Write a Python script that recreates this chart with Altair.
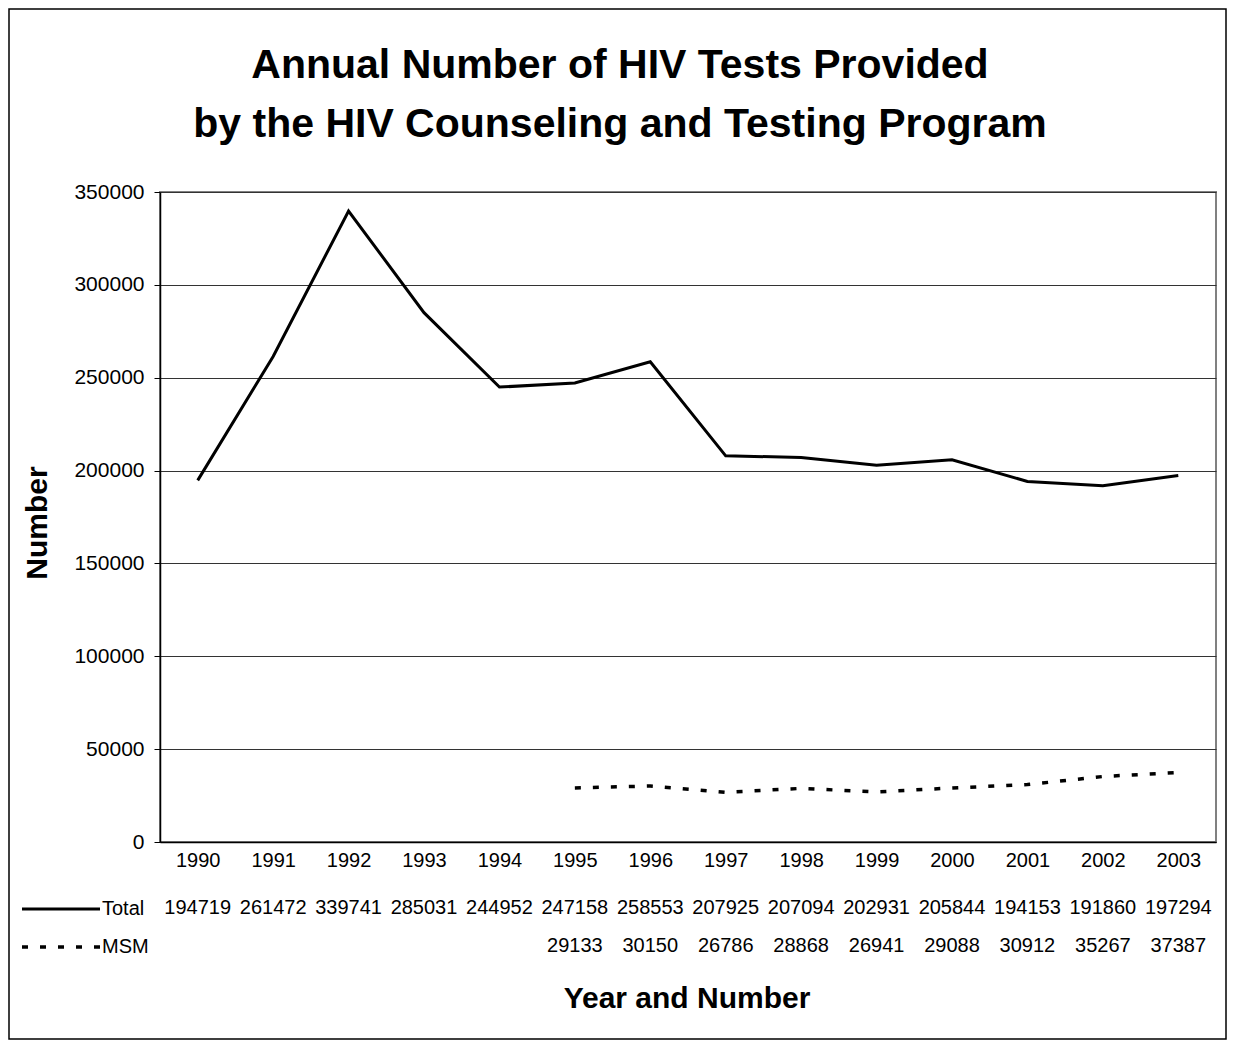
import altair as alt
import pandas as pd

years = ["1990", "1991", "1992", "1993", "1994", "1995", "1996", "1997",
         "1998", "1999", "2000", "2001", "2002", "2003"]
total = [194719, 261472, 339741, 285031, 244952, 247158, 258553, 207925,
         207094, 202931, 205844, 194153, 191860, 197294]
msm = [None, None, None, None, None, 29133, 30150, 26786, 28868, 26941,
       29088, 30912, 35267, 37387]
title_lines = ["Annual Number of HIV Tests Provided",
               "by the HIV Counseling and Testing Program"]

FONT = "Liberation Sans"

df_total = pd.DataFrame({"year": years, "value": total, "series": "Total"})
df_msm = pd.DataFrame({"year": years, "value": msm, "series": "MSM"}).dropna()
df_msm["value"] = df_msm["value"].astype(int)

W, H = 1056, 650

xscale = alt.Scale(domain=years, padding=0.5)
x_enc = alt.X("year:O", scale=xscale,
              axis=alt.Axis(title=None, labelAngle=0, ticks=False,
                            labelFontSize=20, labelPadding=8, labelColor="black",
                            domainColor="black", domainWidth=1.5))
y_enc = alt.Y("value:Q", scale=alt.Scale(domain=[0, 350000], nice=False),
              axis=alt.Axis(title=None, values=list(range(0, 350001, 50000)),
                            format="d", labelFontSize=21, labelColor="black",
                            labelPadding=10, tickSize=6, tickColor="black",
                            domainColor="black", domainWidth=1.5,
                            gridColor="#333333", gridWidth=1))

line_total = alt.Chart(df_total).mark_line(color="black", strokeWidth=3).encode(
    x=x_enc, y=y_enc)
line_msm = alt.Chart(df_msm).mark_line(color="black", strokeWidth=3.5,
                                       strokeDash=[6, 12]).encode(x=x_enc, y=y_enc)

txt_total = alt.Chart(df_total).mark_text(fontSize=20, font=FONT, baseline="middle",
                                          color="black").encode(
    x=alt.X("year:O", scale=xscale), y=alt.value(716), text=alt.Text("value:Q", format="d"))
txt_msm = alt.Chart(df_msm).mark_text(fontSize=20, font=FONT, baseline="middle",
                                      color="black").encode(
    x=alt.X("year:O", scale=xscale), y=alt.value(754), text=alt.Text("value:Q", format="d"))

one = pd.DataFrame({"a": [0]})
key_total = alt.Chart(one).mark_rule(color="black", strokeWidth=3).encode(
    x=alt.value(-138), x2=alt.value(-60), y=alt.value(717))
key_msm = alt.Chart(one).mark_rule(color="black", strokeWidth=3.5, strokeDash=[6, 12]).encode(
    x=alt.value(-138), x2=alt.value(-60), y=alt.value(755))
lab_total = alt.Chart(one).mark_text(text="Total", fontSize=20, font=FONT, align="left",
                                     baseline="middle", color="black").encode(
    x=alt.value(-58), y=alt.value(717))
lab_msm = alt.Chart(one).mark_text(text="MSM", fontSize=20, font=FONT, align="left",
                                   baseline="middle", color="black").encode(
    x=alt.value(-58), y=alt.value(755))

title1 = alt.Chart(one).mark_text(text=title_lines[0], fontSize=41, fontWeight="bold",
                                  font=FONT, align="center", baseline="alphabetic",
                                  color="black").encode(x=alt.value(460), y=alt.value(-114))
title2 = alt.Chart(one).mark_text(text=title_lines[1], fontSize=41, fontWeight="bold",
                                  font=FONT, align="center", baseline="alphabetic",
                                  color="black").encode(x=alt.value(460), y=alt.value(-55))
xtitle = alt.Chart(one).mark_text(text="Year and Number", fontSize=30, fontWeight="bold",
                                  font=FONT, align="center", baseline="alphabetic",
                                  color="black").encode(x=alt.value(527), y=alt.value(816))
ytitle = alt.Chart(one).mark_text(text="Number", fontSize=30, fontWeight="bold",
                                  font=FONT, align="center", baseline="alphabetic",
                                  angle=270, color="black").encode(
    x=alt.value(-113), y=alt.value(331))

border = alt.Chart(one).mark_rect(fill=None, stroke="black", strokeWidth=1.5).encode(
    x=alt.value(-151), x2=alt.value(1066), y=alt.value(-183), y2=alt.value(847))

chart = alt.layer(border, line_total, line_msm, txt_total, txt_msm,
                  key_total, key_msm, lab_total, lab_msm,
                  title1, title2, xtitle, ytitle).properties(
    width=W, height=H,
    autosize=alt.AutoSizeParams(type="none"),
    padding={"left": 152, "top": 184, "right": 11, "bottom": 198},
).configure(font=FONT).configure_view(stroke="#808080", strokeWidth=2)

chart.save("out.html", embed_options={"renderer": "svg", "actions": False})
